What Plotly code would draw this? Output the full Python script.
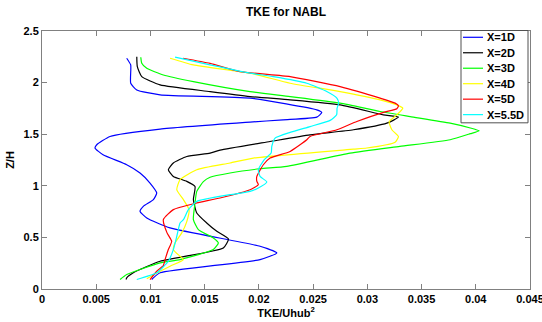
import plotly.graph_objects as go

# X=1D (blue)
x1d = [0.00781, 0.00818, 0.00818, 0.00874, 0.01089, 0.01919, 0.02534, 0.02580, 0.02534, 0.02223,
       0.01919, 0.01089, 0.00627, 0.00505, 0.00489, 0.00563, 0.00781, 0.00904, 0.00996, 0.01058,
       0.01027, 0.00934, 0.00904, 0.00966, 0.01181, 0.02011, 0.02165, 0.02011, 0.01089, 0.01027, 0.01012]
z1d = [2.236, 2.171, 1.994, 1.929, 1.881, 1.849, 1.736, 1.710, 1.665, 1.639,
       1.617, 1.549, 1.478, 1.398, 1.366, 1.301, 1.204, 1.124, 1.027, 0.930,
       0.866, 0.801, 0.752, 0.689, 0.592, 0.414, 0.350, 0.285, 0.157, 0.108, 0.092]

# X=2D (black)
x2d = [0.00874, 0.00879, 0.00920, 0.01089, 0.01550, 0.01919, 0.02288, 0.02749, 0.03148, 0.03287,
       0.03180, 0.02872, 0.02472, 0.02103, 0.01642, 0.01550, 0.01335, 0.01211, 0.01165, 0.01211,
       0.01335, 0.01411, 0.01396, 0.01427, 0.01519, 0.01612, 0.01719, 0.01672, 0.01089, 0.00842,
       0.00781, 0.00775]
z2d = [2.251, 2.155, 2.058, 1.978, 1.913, 1.865, 1.833, 1.784, 1.688, 1.665,
       1.607, 1.543, 1.494, 1.429, 1.346, 1.317, 1.284, 1.221, 1.156, 1.091,
       1.043, 0.994, 0.866, 0.737, 0.640, 0.559, 0.485, 0.398, 0.269, 0.157,
       0.108, 0.092]

# X=3D (green)
x3d = [0.00911, 0.00920, 0.00966, 0.01119, 0.01396, 0.01919, 0.02288, 0.02749, 0.03118, 0.03395,
       0.03764, 0.03950, 0.04031, 0.03950, 0.03764, 0.03300, 0.02841, 0.02257, 0.02011, 0.01734,
       0.01550, 0.01488, 0.01427, 0.01411, 0.01396, 0.01442, 0.01580, 0.01626, 0.01580, 0.01273,
       0.01089, 0.00781, 0.00720]
z3d = [2.246, 2.188, 2.139, 2.074, 2.010, 1.913, 1.865, 1.801, 1.720, 1.671,
       1.607, 1.560, 1.533, 1.505, 1.446, 1.382, 1.317, 1.188, 1.165, 1.124,
       1.083, 1.040, 0.946, 0.834, 0.672, 0.575, 0.495, 0.447, 0.382, 0.285,
       0.253, 0.140, 0.092]

# X=4D (yellow)
x4d = [0.01181, 0.01396, 0.01919, 0.02288, 0.02749, 0.03118, 0.03272, 0.03327, 0.03272, 0.03201,
       0.03226, 0.03287, 0.03256, 0.02995, 0.02872, 0.01949, 0.01734, 0.01427, 0.01273, 0.01243,
       0.01304, 0.01356, 0.01335, 0.01289, 0.01227, 0.01211, 0.01273, 0.01304, 0.01181, 0.01042,
       0.00966]
z4d = [2.236, 2.171, 2.091, 1.994, 1.913, 1.833, 1.784, 1.752, 1.688, 1.620,
       1.543, 1.478, 1.422, 1.366, 1.355, 1.269, 1.221, 1.156, 1.059, 0.962,
       0.866, 0.769, 0.653, 0.544, 0.447, 0.382, 0.317, 0.285, 0.221, 0.145,
       0.099]

# X=5D (red)
x5d = [0.01301, 0.01550, 0.01827, 0.02288, 0.02749, 0.03118, 0.03256, 0.03287, 0.03272, 0.03149,
       0.02903, 0.02719, 0.02472, 0.02442, 0.02288, 0.02103, 0.02041, 0.01981, 0.01981, 0.01995,
       0.01919, 0.01642, 0.01427, 0.01211, 0.01119, 0.01153, 0.01196, 0.01165, 0.01135, 0.01119,
       0.01058, 0.00996]
z5d = [2.236, 2.186, 2.106, 2.058, 1.961, 1.849, 1.801, 1.775, 1.746, 1.712,
       1.623, 1.543, 1.478, 1.446, 1.333, 1.269, 1.204, 1.091, 1.043, 1.011,
       0.962, 0.882, 0.834, 0.769, 0.672, 0.544, 0.462, 0.382, 0.285, 0.227,
       0.172, 0.092]

# X=5.5D (cyan)
x55d = [0.01227, 0.01550, 0.01919, 0.02134, 0.02442, 0.02626, 0.02719, 0.02735, 0.02721, 0.02717,
        0.02657, 0.02472, 0.02288, 0.02149, 0.02119, 0.02113, 0.02048, 0.01995, 0.02011, 0.02073,
        0.01995, 0.01919, 0.01734, 0.01427, 0.01350, 0.01304, 0.01273, 0.01243, 0.01211, 0.01165,
        0.01058, 0.00874]
z55d = [2.246, 2.171, 2.091, 2.058, 1.994, 1.913, 1.849, 1.801, 1.752, 1.688,
        1.634, 1.574, 1.518, 1.462, 1.381, 1.317, 1.252, 1.156, 1.091, 1.037,
        0.979, 0.946, 0.914, 0.849, 0.769, 0.672, 0.640, 0.511, 0.382, 0.269,
        0.157, 0.092]

names = ["X=1D", "X=2D", "X=3D", "X=4D", "X=5D", "X=5.5D"]
colors = ["#0000ff", "#000000", "#00ff00", "#ffff00", "#ff0000", "#00ffff"]
xs = [x1d, x2d, x3d, x4d, x5d, x55d]
zs = [z1d, z2d, z3d, z4d, z5d, z55d]

x_ticks = [0, 0.005, 0.01, 0.015, 0.02, 0.025, 0.03, 0.035, 0.04, 0.045]
y_ticks = [0, 0.5, 1, 1.5, 2, 2.5]

W, H = 542, 322
ML, MR, MT, MB = 42, 12, 31, 32.5
PW, PH = W - ML - MR, H - MT - MB

fig = go.Figure()
for n, c, x, z in zip(names, colors, xs, zs):
    fig.add_trace(go.Scatter(x=x, y=z, mode="lines", name=n, showlegend=False, hoverinfo="skip",
                             line=dict(color=c, width=1.2, shape="spline", smoothing=0.5)))

font = dict(family="Liberation Sans, Arial, sans-serif", size=11, color="#000000", weight="bold")
axis_common = dict(showline=True, linecolor="#808080", linewidth=1, mirror="ticks",
                   ticks="inside", ticklen=5, tickcolor="#808080", showgrid=False,
                   zeroline=False, tickfont=font, automargin=False, ticklabeloverflow="allow")

# legend box drawn in pixel positions converted to plot-area (paper) fractions
def px(xp):
    return (xp - ML) / PW

def py(yp):
    return (H - MB - yp) / PH

shapes = [dict(type="rect", xref="paper", yref="paper", x0=px(461), x1=px(528), y0=py(123), y1=py(30.5),
               line=dict(color="#505050", width=1), fillcolor="white", layer="above")]
annotations = []
for i, (n, c) in enumerate(zip(names, colors)):
    yy = 37.3 + 15.5 * i
    shapes.append(dict(type="line", xref="paper", yref="paper", x0=px(463), x1=px(483),
                       y0=py(yy), y1=py(yy), line=dict(color=c, width=1.2), layer="above"))
    annotations.append(dict(text=n, xref="paper", yref="paper", x=px(485), y=py(yy),
                            xanchor="left", yanchor="middle", showarrow=False, font=font))

fig.update_layout(
    width=W, height=H,
    margin=dict(l=ML, r=MR, t=MT, b=MB),
    paper_bgcolor="white", plot_bgcolor="white",
    title=dict(text="<b>TKE for NABL</b>", x=(ML + PW / 2) / W, xanchor="center",
               y=1 - 12 / H, yanchor="middle",
               font=dict(family="Liberation Sans, Arial, sans-serif", size=12, color="#000000")),
    xaxis=dict(range=[0, 0.045], tickvals=x_ticks,
               ticktext=[("%g" % v) for v in x_ticks],
               title=dict(text="TKE/Uhub<sup>2</sup>", font=font, standoff=4), **axis_common),
    yaxis=dict(range=[0, 2.5], tickvals=y_ticks,
               ticktext=[("%g" % v) for v in y_ticks],
               title=dict(text="Z/H", font=font, standoff=6), **axis_common),
    shapes=shapes,
    annotations=annotations,
    showlegend=False,
    hovermode=False,
)

fig.write_html("out.html", config={"displayModeBar": False, "staticPlot": True},
               post_script="document.body.style.margin='0px';document.body.style.overflow='hidden';")
